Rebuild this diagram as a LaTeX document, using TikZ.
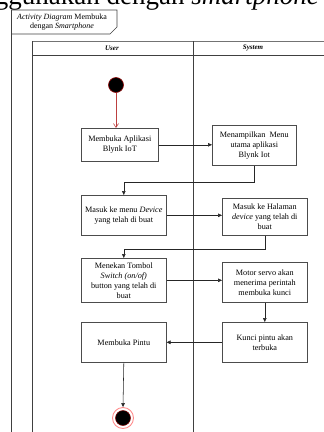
\documentclass[tikz,border=0pt]{standalone}
\usepackage{fontspec}
\setmainfont{Liberation Serif}
\usetikzlibrary{arrows.meta}

\begin{document}
\begin{tikzpicture}[x=1pt,y=-1pt,
  act/.style={draw=black!70, line width=0.6pt, fill=white, align=center,
    anchor=north west, inner sep=1pt,
    font=\fontsize{8.2}{10}\selectfont},
  flow/.style={draw=black!85, line width=0.55pt,
    -{Triangle[length=4pt,width=3.6pt]}},
  startflow/.style={draw=red!65!black!75, line width=0.55pt,
    -{Straight Barb[length=4pt,width=5pt]}},
  lane/.style={draw=black!75, line width=0.7pt},
  lanehead/.style={font=\fontsize{7}{8}\selectfont\itshape\bfseries}]

\useasboundingbox (0,0) rectangle (324,432);
\clip (0,0) rectangle (324,432);

% caption running above the diagram
\node[anchor=base east, inner sep=0pt, font=\fontsize{27}{30}\selectfont]
  (cap) at (319,4.5) {menggunakan dengan \textit{smartphone}};

% frame with its name tag
\draw[lane] (11,10) -- (11,440);
\draw[lane, line width=0.6pt] (11,34) -- (110,34) -- (117,27) -- (117,10) -- (11,10);
\node[align=center, inner sep=0pt, font=\fontsize{8}{8.8}\selectfont]
  (frametag) at (62,22) {\textit{Activity Diagram} Membuka\\dengan \textit{Smartphone}};

% swimlanes
\draw[draw=black!55, line width=1pt] (32,41) -- (330,41);
\draw[lane] (32,55) -- (330,55);
\draw[lane] (32,41) -- (32,440);
\draw[lane] (193,41) -- (193,440);
\node[lanehead] (huser) at (112,48) {User};
\node[lanehead] (hsys) at (253,48) {System};

% activities
\node[act, minimum width=77pt, minimum height=33pt] (b1) at (81,128)
  {Membuka Aplikasi\\Blynk IoT};
\node[act, minimum width=84pt, minimum height=40pt] (b2) at (212,125)
  {Menampilkan~ Menu\\utama aplikasi\\Blynk Iot};
\node[act, minimum width=85pt, minimum height=40pt] (b3) at (81,195)
  {Masuk ke menu \textit{Device}\\yang telah di buat};
\node[act, minimum width=85pt, minimum height=37pt] (b4) at (222,198)
  {Masuk ke Halaman\\\textit{device} yang telah di\\buat};
\node[act, minimum width=85pt, minimum height=44pt] (b5) at (81,258)
  {Menekan Tombol\\\textit{Switch (on/of)}\\button yang telah di\\buat};
\node[act, minimum width=85pt, minimum height=40pt] (b6) at (222,262)
  {Motor servo akan\\menerima perintah\\membuka kunci};
\node[act, minimum width=85pt, minimum height=40pt] (b7) at (222,322)
  {Kunci pintu akan\\terbuka};
\node[act, minimum width=85pt, minimum height=40pt] (b8) at (81,322)
  {Membuka Pintu};

% initial and final states
\node[circle, fill=black, draw=red!55!black, line width=0.6pt,
  minimum size=15pt, inner sep=0pt] (start) at (116,85) {};
\node[circle, fill=white, draw=red!45, line width=0.9pt,
  minimum size=21pt, inner sep=0pt] (stop) at (123,418) {};
\node[circle, fill=black, draw=red!50!black, line width=0.5pt,
  minimum size=15pt, inner sep=0pt] (stopdot) at (stop.center) {};

% control flow
\draw[startflow] (start) -- (start |- b1.north);
\draw[flow] (b1.east) -- (b2.west |- b1.east);
\draw[flow] (b2.south) -- ++(0,17) -| (b3.north);
\draw[flow] (b3.east) -- (b4.west |- b3.east);
\draw[flow] (b4.south) -- ++(0,14) -| (b5.north);
\draw[flow] (b5.east) -- (b6.west |- b5.east);
\draw[flow] (b6.south) -- (b7.north);
\draw[flow] (b7.west) -- (b8.east);
\draw[flow] (b8.south) -- (stop.north);
\end{tikzpicture}
\end{document}
